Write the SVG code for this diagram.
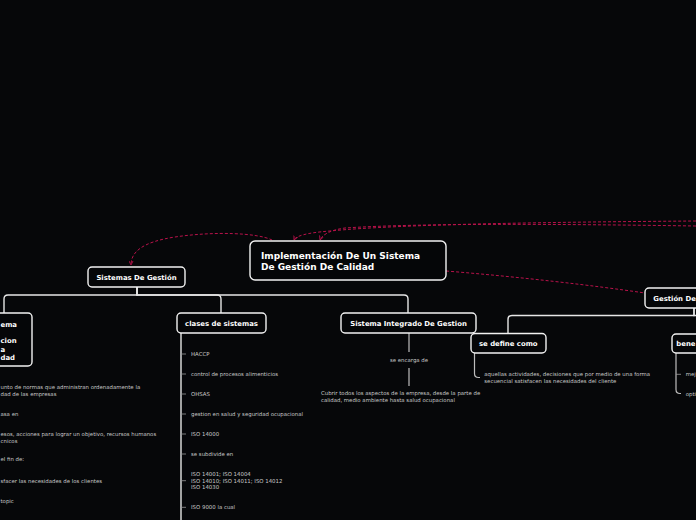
<svg xmlns="http://www.w3.org/2000/svg" width="696" height="520" viewBox="0 0 696 520">
<defs>
<style>
.bg{fill:#060709}
.node{fill:#050608;stroke:#f2f2f2;stroke-width:1.4}
.nt{font-family:"DejaVu Sans",Verdana,sans-serif;font-weight:bold;font-size:6.9px;fill:#ffffff}
.title{font-family:"DejaVu Sans",Verdana,sans-serif;font-weight:bold;font-size:9px;fill:#ffffff}
.st{font-family:"DejaVu Sans",Verdana,sans-serif;font-size:5.4px;fill:#c8c8c8}
.tree{fill:none;stroke:#e6e6e6;stroke-width:1.4}
.sub{fill:none;stroke:#bdbdbd;stroke-width:1.2}
.tick{fill:none;stroke:#9a9a9a;stroke-width:0.8}
.link{fill:none;stroke:#b8124a;stroke-width:1;stroke-dasharray:3 2}
</style>
<marker id="arr" viewBox="0 0 6 6" refX="5" refY="3" markerWidth="5" markerHeight="5" orient="auto" markerUnits="userSpaceOnUse">
<path d="M0,0.5 L5,3 L0,5.5" fill="none" stroke="#c0124e" stroke-width="1"/>
</marker>
</defs>
<rect class="bg" x="0" y="0" width="696" height="520"/>

<g id="connectors">
<path class="link" d="M272,240 C258,233 215,231 175,237 C142,242 131,252 131,265" marker-end="url(#arr)"/>
<path class="link" d="M696,221 C560,222 400,224 330,231 C305,233 296,236 294,240" marker-end="url(#arr)"/>
<path class="link" d="M696,226 C560,224 420,223 345,228 C330,230 322,235 320,240" marker-end="url(#arr)"/>
<path class="link" d="M446,271 C520,277 590,285 645,293"/>
<path class="tree" d="M137,287 V295 H8 Q4,295 4,299 V313"/>
<path class="tree" d="M137,287 V295 H217 Q221,295 221,299 V313"/>
<path class="tree" d="M137,287 V295 H404 Q408,295 408,299 V313"/>
<path class="tree" d="M694,308 V315.5 H512 Q508,315.5 508,319.5 V333.5"/>
<path class="tree" d="M694,308 V315.5 H700"/>
<path class="tree" d="M181,333 V520"/>
<path class="tick" d="M181,354 H186 M181,374 H186 M181,394 H186 M181,414 H186 M181,434 H186 M181,454 H186 M181,480.7 H186 M181,507.3 H186"/>
<path class="sub" d="M409,333 V352 M409,368 V386"/>
<path class="sub" d="M474.5,353 V373.5 Q474.5,377.5 478.5,377.5 H480"/>
<path class="sub" d="M676,353 V389.5 Q676,393.5 680,393.5 H681"/>
<path class="tick" d="M676,374.3 H681"/>
</g>

<g id="main">
<rect class="node" x="250" y="241" width="196" height="39" rx="5"/>
<text class="title" x="261" y="259">Implementación De Un Sistema</text>
<text class="title" x="261" y="270">De Gestión De Calidad</text>
</g>

<g id="sistemas">
<rect class="node" x="88" y="267" width="97" height="20" rx="4"/>
<text class="nt" x="136.5" y="279.8" text-anchor="middle">Sistemas De Gestión</text>
</g>

<g id="left-node">
<rect class="node" x="-60" y="313" width="92" height="53" rx="4"/>
<text class="nt" x="0.5" y="326.5">ema</text>
<text class="nt" x="0.5" y="343">cion</text>
<text class="nt" x="0.5" y="351.5">a</text>
<text class="nt" x="0.5" y="359.8">dad</text>
</g>

<g id="left-items">
<text class="st" x="0.5" y="389">unto de normas que administran ordenadamente la</text>
<text class="st" x="0.5" y="395.8">dad de las empresas</text>
<text class="st" x="0.5" y="416">asa en</text>
<text class="st" x="0.5" y="436">esos, acciones para lograr un objetivo, recursos humanos</text>
<text class="st" x="0.5" y="442.7">cnicos</text>
<text class="st" x="0.5" y="461.3">el fin de:</text>
<text class="st" x="0.5" y="482.7">sfacer las necesidades de los clientes</text>
<text class="st" x="0.5" y="502.7">topic</text>
</g>

<g id="clases">
<rect class="node" x="177" y="313" width="89" height="20" rx="4"/>
<text class="nt" x="221.5" y="326.2" text-anchor="middle">clases de sistemas</text>
</g>

<g id="clases-items">
<text class="st" x="191" y="356">HACCP</text>
<text class="st" x="191" y="376">control de procesos alimenticios</text>
<text class="st" x="191" y="396">OHSAS</text>
<text class="st" x="191" y="416">gestion en salud y seguridad ocupacional</text>
<text class="st" x="191" y="436">ISO 14000</text>
<text class="st" x="191" y="456">se subdivide en</text>
<text class="st" x="191" y="476">ISO 14001; ISO 14004</text>
<text class="st" x="191" y="482.7">ISO 14010; ISO 14011; ISO 14012</text>
<text class="st" x="191" y="489.3">ISO 14030</text>
<text class="st" x="191" y="509.3">ISO 9000 la cual</text>
</g>

<g id="integrado">
<rect class="node" x="341" y="313" width="135" height="20" rx="4"/>
<text class="nt" x="408.5" y="326.2" text-anchor="middle">Sistema Integrado De Gestion</text>
<text class="st" x="409" y="362.3" text-anchor="middle">se encarga de</text>
<text class="st" x="321" y="395">Cubrir todos los aspectos de la empresa, desde la parte de</text>
<text class="st" x="321" y="401.7">calidad, medio ambiente hasta salud ocupacional</text>
</g>

<g id="gestion">
<rect class="node" x="645" y="288" width="120" height="20" rx="4"/>
<text class="nt" x="653.3" y="301.2">Gestión De</text>
</g>

<g id="define">
<rect class="node" x="471" y="333.5" width="75" height="19.5" rx="4"/>
<text class="nt" x="508.3" y="346.2" text-anchor="middle">se define como</text>
<text class="st" x="484.3" y="375.7">aquellas actividades, decisiones que por medio de una forma</text>
<text class="st" x="484.3" y="383.3">secuencial satisfacen las necesidades del cliente</text>
</g>

<g id="beneficios">
<rect class="node" x="672" y="334" width="60" height="19" rx="4"/>
<text class="nt" x="695.5" y="345.8" text-anchor="end">bene</text>
<text class="st" x="685.7" y="376.3">mej</text>
<text class="st" x="685.7" y="396">opti</text>
</g>
</svg>
